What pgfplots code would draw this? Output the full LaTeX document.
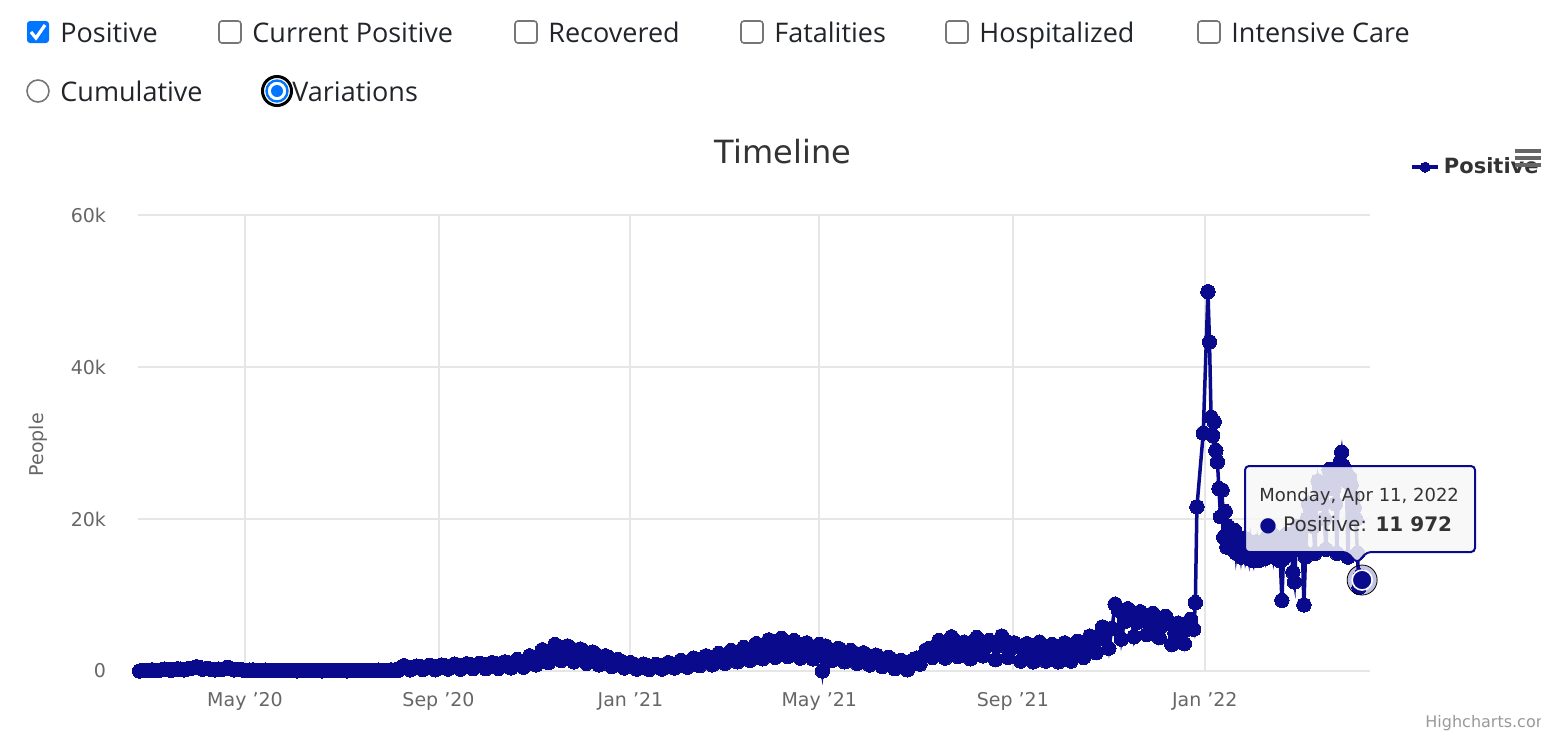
\documentclass[border=0pt]{standalone}
\usepackage{pgfplots}
\pgfplotsset{compat=1.18}
\usepackage{fontspec}
\setmainfont{DejaVu Sans}
\newfontfamily\uifont{Open Sans}
\definecolor{navyc}{RGB}{10,10,140}
\definecolor{chkblue}{RGB}{0,117,255}
\definecolor{boxgrey}{RGB}{118,118,118}
\definecolor{uitext}{RGB}{33,37,41}
\definecolor{txt}{RGB}{51,51,51}
\definecolor{lbl}{RGB}{102,102,102}
\definecolor{gridc}{RGB}{230,230,230}
\definecolor{cred}{RGB}{153,153,153}

% daily new positives (day 1 = 1 Jan 2020)
\pgfplotstableread{
day val
54 0
56 50
58 100
60 80
62 150
64 100
66 50
68 150
70 250
72 200
74 100
76 200
78 300
80 250
82 150
84 250
86 350
88 400
90 550
92 450
94 250
96 300
98 300
100 200
102 150
104 250
106 200
108 300
110 500
112 300
114 150
116 200
118 200
120 120
122 80
124 120
126 150
128 100
130 60
132 90
134 120
136 80
138 40
140 70
142 100
144 60
146 30
148 50
150 80
152 50
154 20
156 40
158 60
160 40
162 30
164 50
166 80
168 50
170 20
172 40
174 60
176 50
178 30
180 60
182 90
184 60
186 20
188 50
190 80
192 60
194 40
196 70
198 100
200 70
202 30
204 80
206 120
208 90
210 40
212 100
214 150
216 120
218 60
220 400
222 700
224 550
226 150
228 400
230 650
232 600
234 200
236 450
238 750
240 650
242 150
244 500
246 800
248 700
250 250
252 550
254 900
256 800
258 250
260 600
262 950
264 850
266 300
268 650
270 1000
272 900
274 300
276 700
278 1100
280 1000
282 350
284 800
286 1200
288 1100
290 400
292 900
294 1500
296 1300
298 500
300 1200
302 2000
304 1800
306 800
308 1800
310 2800
312 2500
314 1100
316 2400
318 3500
320 3200
322 1400
324 2500
326 3300
328 3000
330 1200
332 2200
334 2900
336 2600
338 1000
340 1900
342 2500
344 2200
346 800
348 1500
350 2000
352 1800
354 600
356 1100
358 1500
360 1300
362 400
364 800
366 1100
368 900
370 250
372 600
374 900
376 800
378 200
380 550
382 850
384 750
386 250
388 600
390 1100
392 950
394 400
396 800
398 1400
400 1200
402 500
404 1100
406 1700
408 1500
410 700
412 1300
414 2000
416 1800
418 800
420 1600
422 2300
424 2100
426 1000
428 1900
430 2700
432 2400
434 1200
436 2200
438 3100
440 2800
442 1400
444 2500
446 3600
448 3200
450 1600
452 2900
454 4100
456 3700
458 1800
460 3200
462 4300
464 3900
466 1900
468 3100
470 4000
472 3600
474 1700
476 2900
478 3700
480 3300
482 1600
484 2700
486 3500
488 0
490 3300
492 2500
494 1400
496 2300
498 3000
500 2700
502 1200
504 2100
506 2700
508 2400
510 1000
512 1800
514 2400
516 2100
518 800
520 1500
522 2100
524 1800
526 600
528 1200
530 1800
532 1500
534 300
536 900
538 1400
540 1200
542 150
544 800
546 1500
548 1700
550 900
552 2000
554 2800
556 3000
558 1800
560 3000
562 4000
564 3600
566 1700
568 3200
570 4500
572 4000
574 1900
576 3000
578 3800
580 3400
582 1600
584 3100
586 4400
588 3900
590 2000
592 3200
594 4000
596 3600
598 1500
600 3300
602 4600
604 4000
606 1800
608 3000
610 3700
612 3300
614 1300
616 2600
618 3600
620 3200
622 1200
624 2500
626 3800
628 3300
630 1300
632 2500
634 3500
636 3100
638 1200
640 2600
642 3700
644 3300
646 1300
648 2800
650 3900
652 3600
654 1800
656 3300
658 4600
660 4200
662 2400
664 4200
666 5800
668 5200
670 3000
672 5600
674 8800
676 8000
678 4200
680 6500
682 8200
684 7500
686 4500
688 6400
690 7800
692 7200
694 4800
696 6000
698 7600
700 7000
702 4400
704 6000
706 7200
708 6500
710 3500
712 5000
714 6300
716 5800
718 3600
720 5500
722 6800
724 5500
725 9000
726 21600
730 31300
733 49900
734 43300
735 33400
736 31000
737 32800
738 29000
739 27500
740 24000
741 20300
742 23800
743 17600
744 21000
745 16300
746 19000
747 18000
748 17000
749 16000
750 18500
751 15500
752 17000
753 16500
754 15000
755 16500
756 17500
757 15000
758 16000
759 14800
760 17000
761 15500
762 14500
763 16000
764 17000
765 15000
766 14600
767 16500
768 15500
769 14800
770 17500
771 16000
772 15200
773 16800
774 18000
775 15000
776 16000
777 17000
778 15000
779 14500
780 9300
781 14800
782 16000
783 18000
784 17000
785 15500
786 16500
787 13000
788 11700
789 16000
790 19000
791 18500
792 17500
793 16000
794 8700
795 15000
796 20000
797 22000
798 21000
799 20000
800 19000
801 15500
802 22000
803 25000
804 24000
805 23500
806 22000
807 20000
808 16000
809 24000
810 26500
811 26000
812 25000
813 24000
814 22000
815 15500
816 26000
817 27500
818 28800
819 27000
820 26500
821 25000
822 15000
823 25500
824 24500
825 23000
826 21500
827 20000
828 15500
829 11000
830 12500
831 11972
}\positives

\newcommand{\cbox}[2]{%
  \draw[boxgrey,line width=0.8pt,rounded corners=1.5pt] (#1,-21) rectangle ++(22,-22);
  \node[anchor=base west,inner sep=0,text=uitext,font=\uifont\fontsize{13.5}{16}\selectfont] at (#1+33,-42) {#2};}

\begin{document}
\begin{tikzpicture}[x=0.5pt,y=0.5pt]
\path[use as bounding box] (0,0) rectangle (1541,-735);

% controls
\fill[chkblue,rounded corners=1.5pt] (27,-21) rectangle ++(22,-22);
\draw[white,line width=1.6pt] (31,-32) -- (36,-38) -- (45,-25);
\node[anchor=base west,inner sep=0,text=uitext,font=\uifont\fontsize{13.5}{16}\selectfont] at (60,-42) {Positive};
\cbox{219}{Current Positive}
\cbox{515}{Recovered}
\cbox{741}{Fatalities}
\cbox{946}{Hospitalized}
\cbox{1198}{Intensive Care}

\draw[boxgrey,line width=0.8pt] (38,-91) circle (11);
\node[anchor=base west,inner sep=0,text=uitext,font=\uifont\fontsize{13.5}{16}\selectfont] at (60,-101) {Cumulative};
\draw[black,line width=1.5pt] (277,-91) circle (14.5);
\draw[chkblue,line width=1.2pt,fill=white] (277,-91) circle (10.5);
\fill[chkblue] (277,-91) circle (6);
\node[anchor=base west,inner sep=0,text=uitext,font=\uifont\fontsize{13.5}{16}\selectfont] at (292,-101) {Variations};

\begin{axis}[
  at={(69pt,-335.5pt)}, anchor=south west,
  scale only axis, width=616pt, height=228pt,
  xmin=53, xmax=836, ymin=0, ymax=60000,
  clip=false,
  axis line style={draw=none},
  major tick length=0pt,
  xtick={121,244,366,486,609,731},
  xticklabels={May '20,Sep '20,Jan '21,May '21,Sep '21,Jan '22},
  ytick={0,20000,40000,60000},
  yticklabels={0,20k,40k,60k},
  scaled y ticks=false,
  grid=major,
  major grid style={gridc,line width=1pt},
  ticklabel style={font=\fontsize{9.5}{11}\selectfont,text=lbl},
  xticklabel style={yshift=-7pt},
  yticklabel style={xshift=-12.5pt},
  ylabel={People},
  ylabel style={at={(axis description cs:-0.081,0.496)},anchor=center,font=\fontsize{9.5}{11}\selectfont,text=lbl},
  title={Timeline},
  title style={at={(axis description cs:0.5235,1.112)},anchor=center,font=\fontsize{16}{19}\selectfont,text=txt},
  legend style={at={(axis description cs:1.0325,1.105)},anchor=west,draw=none,fill=none,
    font=\bfseries\fontsize{10.5}{12}\selectfont,text=txt,inner sep=0pt},
  legend image code/.code={\draw[mark repeat=2,mark phase=2,#1,mark size=2.5pt] plot coordinates {(0pt,0pt) (6.5pt,0pt) (13pt,0pt)};},
]
\addplot[navyc,line width=1.75pt,mark=*,mark size=3.6pt,mark options={fill=navyc,draw=navyc,line width=0pt}]
  table[x=day,y=val] {\positives};
\addlegendentry{Positive}
% hovered point
\addplot[forget plot,only marks,mark=*,mark size=7.5pt,mark options={fill=navyc,fill opacity=0.25,draw=none}]
  coordinates {(831,11972)};
\addplot[forget plot,only marks,mark=*,mark size=5pt,mark options={fill=navyc,draw=white,line width=0.8pt}]
  coordinates {(831,11972)};
\end{axis}

% export menu icon
\foreach \yy in {149,156,163} \fill[lbl] (1515,-\yy) rectangle (1545,-\yy-3.5);

% tooltip
\draw[navyc,line width=1pt,fill={rgb,255:red,247;green,247;blue,247},fill opacity=0.85,rounded corners=2pt]
  (1245,-466) -- (1475,-466) -- (1475,-552) -- (1367,-552) -- (1357,-563) -- (1347,-552) -- (1245,-552) -- cycle;
\node[anchor=base west,inner sep=0,text=txt,font=\fontsize{9}{11}\selectfont] at (1259,-501) {Monday, Apr 11, 2022};
\node[anchor=base west,inner sep=0,text=txt,font=\fontsize{10}{12}\selectfont] at (1259,-531) {\textcolor{navyc}{●} Positive: \textbf{11 972}};

% credits
\node[anchor=base west,inner sep=0,text=cred,font=\fontsize{8}{10}\selectfont] at (1425,-727) {Highcharts.com};
\end{tikzpicture}
\end{document}
